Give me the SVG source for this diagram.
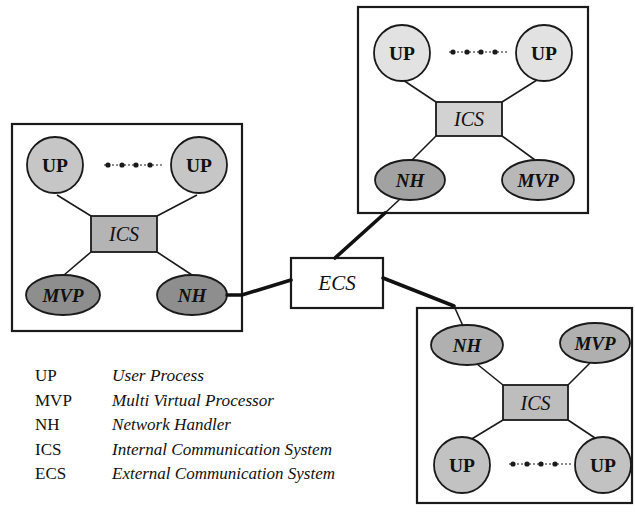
<svg xmlns="http://www.w3.org/2000/svg" width="635" height="515" viewBox="0 0 635 515">
<style>
.box{fill:none;stroke:#1a1a1a;stroke-width:2.2}
.node{stroke:#1a1a1a;stroke-width:1.8}
.up1{fill:#c6c6c6}
.up2{fill:#e2e2e2}
.up3{fill:#c2c2c2}
.ics1{fill:#b4b4b4}
.ics2{fill:#d2d2d2}
.ics3{fill:#bdbdbd}
.dk1{fill:#8e8e8e}
.dk2{fill:#a2a2a2}
.md2{fill:#b8b8b8}
.dk3{fill:#b0b0b0}
.ecs{fill:#fff;stroke:#1a1a1a;stroke-width:2.2}
.lbl{font-family:"Liberation Serif","Times New Roman",serif;fill:#111;text-anchor:middle}
.up{font-size:19.5px;font-weight:bold}
.ics{font-size:20px;font-style:italic}
.nh{font-size:19px;font-weight:bold;font-style:italic}
.ecst{font-size:21px;font-style:italic}
.thin{stroke:#1a1a1a;stroke-width:1.6;fill:none}
.thick{stroke:#111;stroke-width:3.6;fill:none;stroke-linecap:round}
.dots{fill:#1a1a1a}
.dash{stroke:#1a1a1a;stroke-width:1.2;stroke-dasharray:2 2}
.leg{font-family:"Liberation Serif","Times New Roman",serif;font-size:17px;fill:#111}
.legi{font-style:italic;font-size:16.5px}
</style>

<!-- Left cluster -->
<g id="cluster-left">
  <rect class="box" x="12" y="124" width="230" height="207"/>
  <g id="left-links">
    <line class="thin" x1="57" y1="195" x2="91" y2="216"/>
    <line class="thin" x1="197" y1="195" x2="157" y2="216"/>
    <line class="thin" x1="91" y1="252" x2="64" y2="275"/>
    <line class="thin" x1="157" y1="252" x2="192" y2="275"/>
    <g class="dots"><circle cx="108" cy="165" r="2.6"/><circle cx="122" cy="165" r="2.6"/><circle cx="136" cy="165" r="2.6"/><circle cx="150" cy="165" r="2.6"/></g>
    <line class="dash" x1="104" y1="165" x2="164" y2="165"/>
  </g>
  <g id="left-up1"><circle class="node up1" cx="55" cy="165" r="28"/><text class="lbl up" x="55" y="172">UP</text></g>
  <g id="left-up2"><circle class="node up1" cx="199" cy="165" r="28"/><text class="lbl up" x="199" y="172">UP</text></g>
  <g id="left-ics"><rect class="node ics1" x="91" y="216" width="66" height="36"/><text class="lbl ics" x="124" y="241">ICS</text></g>
  <g id="left-mvp"><ellipse class="node dk1" cx="63" cy="295" rx="37" ry="20"/><text class="lbl nh" x="63" y="302">MVP</text></g>
  <g id="left-nh"><ellipse class="node dk1" cx="192" cy="295" rx="35" ry="20"/><text class="lbl nh" x="192" y="302">NH</text></g>
</g>

<!-- Top cluster -->
<g id="cluster-top">
  <rect class="box" x="358" y="7" width="230" height="206"/>
  <g id="top-links">
    <line class="thin" x1="403" y1="80" x2="436" y2="102"/>
    <line class="thin" x1="537" y1="80" x2="502" y2="102"/>
    <line class="thin" x1="436" y1="136" x2="412" y2="160"/>
    <line class="thin" x1="502" y1="136" x2="535" y2="160"/>
    <g class="dots"><circle cx="453" cy="52" r="2.6"/><circle cx="467" cy="52" r="2.6"/><circle cx="481" cy="52" r="2.6"/><circle cx="495" cy="52" r="2.6"/></g>
    <line class="dash" x1="449" y1="52" x2="508" y2="52"/>
  </g>
  <g id="top-up1"><circle class="node up2" cx="402" cy="53" r="28"/><text class="lbl up" x="402" y="60">UP</text></g>
  <g id="top-up2"><circle class="node up2" cx="544" cy="53" r="28"/><text class="lbl up" x="544" y="60">UP</text></g>
  <g id="top-ics"><rect class="node ics2" x="436" y="102" width="66" height="34"/><text class="lbl ics" x="469" y="126">ICS</text></g>
  <g id="top-nh"><ellipse class="node dk2" cx="410" cy="180" rx="35" ry="20"/><text class="lbl nh" x="410" y="187">NH</text></g>
  <g id="top-mvp"><ellipse class="node md2" cx="538" cy="180" rx="36" ry="20"/><text class="lbl nh" x="538" y="187">MVP</text></g>
</g>

<!-- Bottom-right cluster -->
<g id="cluster-bottom">
  <rect class="box" x="417" y="308" width="215" height="195"/>
  <g id="bottom-links">
    <line class="thin" x1="477" y1="364" x2="503" y2="385"/>
    <line class="thin" x1="590" y1="363" x2="568" y2="385"/>
    <line class="thin" x1="503" y1="420" x2="470" y2="440"/>
    <line class="thin" x1="568" y1="420" x2="598" y2="440"/>
    <g class="dots"><circle cx="513" cy="464" r="2.6"/><circle cx="527" cy="464" r="2.6"/><circle cx="541" cy="464" r="2.6"/><circle cx="555" cy="464" r="2.6"/></g>
    <line class="dash" x1="509" y1="464" x2="572" y2="464"/>
  </g>
  <g id="bottom-nh"><ellipse class="node dk3" cx="467" cy="345" rx="36" ry="20"/><text class="lbl nh" x="467" y="352">NH</text></g>
  <g id="bottom-mvp"><ellipse class="node dk3" cx="595" cy="343" rx="35" ry="20"/><text class="lbl nh" x="595" y="350">MVP</text></g>
  <g id="bottom-ics"><rect class="node ics3" x="503" y="385" width="65" height="35"/><text class="lbl ics" x="535.5" y="410">ICS</text></g>
  <g id="bottom-up1"><circle class="node up3" cx="462" cy="465" r="28"/><text class="lbl up" x="462" y="472">UP</text></g>
  <g id="bottom-up2"><circle class="node up3" cx="603" cy="465" r="28"/><text class="lbl up" x="603" y="472">UP</text></g>
</g>

<!-- ECS -->
<g id="ecs">
  <rect class="ecs" x="291" y="258" width="92" height="50"/>
  <text class="lbl ecst" x="337" y="290">ECS</text>
</g>

<!-- Connectors between clusters -->
<g id="connectors">
  <polyline class="thick" points="227,295 242,295 291,280"/>
  <line class="thin" x1="400" y1="199" x2="385" y2="213"/>
  <line class="thick" x1="385" y1="213" x2="335" y2="258"/>
  <line class="thick" x1="383" y1="278" x2="454" y2="306"/>
  <line class="thin" x1="454" y1="306" x2="463" y2="326"/>
</g>

<!-- Legend -->
<g id="legend">
  <text class="leg" x="35" y="381">UP</text>
  <text class="leg" x="35" y="405.5">MVP</text>
  <text class="leg" x="35" y="430">NH</text>
  <text class="leg" x="35" y="454.5">ICS</text>
  <text class="leg" x="35" y="479">ECS</text>
  <text class="leg legi" x="112" y="381" textLength="92" lengthAdjust="spacingAndGlyphs">User Process</text>
  <text class="leg legi" x="112" y="405.5" textLength="162" lengthAdjust="spacingAndGlyphs">Multi Virtual Processor</text>
  <text class="leg legi" x="112" y="430" textLength="119" lengthAdjust="spacingAndGlyphs">Network Handler</text>
  <text class="leg legi" x="112" y="454.5" textLength="220" lengthAdjust="spacingAndGlyphs">Internal Communication System</text>
  <text class="leg legi" x="112" y="479" textLength="223" lengthAdjust="spacingAndGlyphs">External Communication System</text>
</g>
</svg>
